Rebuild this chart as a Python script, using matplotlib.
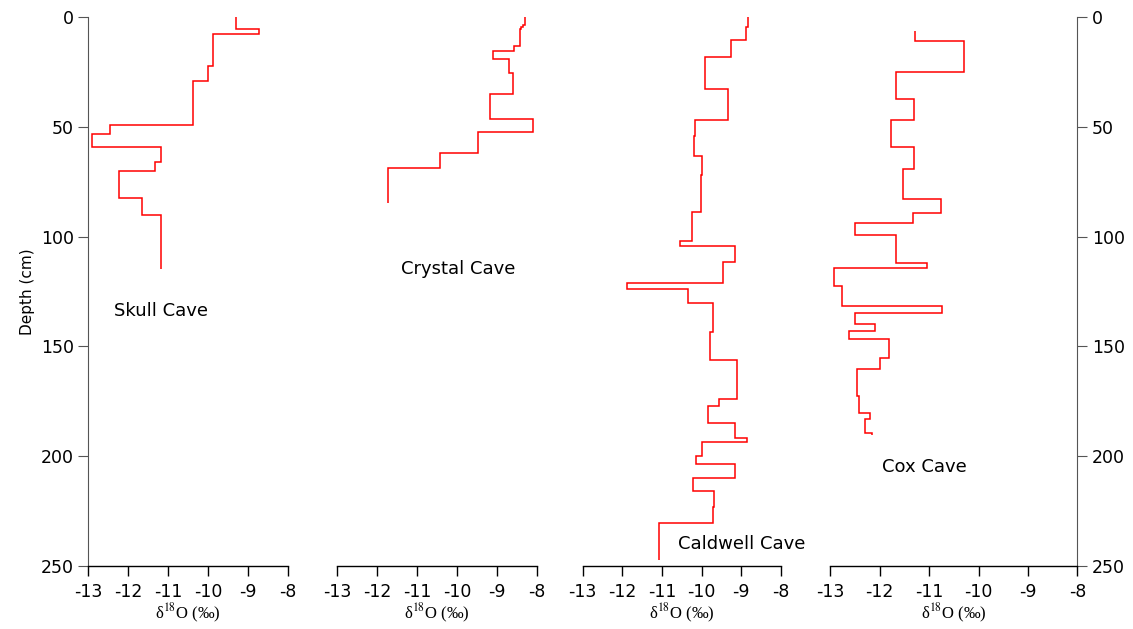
import matplotlib
matplotlib.use('Agg')
import matplotlib.pyplot as plt

plt.rcParams['axes.unicode_minus'] = False
plt.rcParams['mathtext.fontset'] = 'stix'
plt.rcParams['font.family'] = 'DejaVu Sans'

# stepped d18O records: depth edges (cm) and value of each interval
skull_depth = [0, 5.4, 7.9, 22.2, 29.3, 49.3, 53.4, 59.1, 65.9, 70, 82.6, 90.3, 114.7]
skull_d18o = [-9.30, -8.73, -9.87, -10.01, -10.38, -12.46, -12.91, -11.17, -11.34,
              -12.23, -11.66, -11.17]

crystal_depth = [0, 3.5, 4.5, 5.5, 13.2, 15.4, 19.1, 25.6, 35.1, 46.5, 52.4, 62.2, 68.9, 84.7]
crystal_d18o = [-8.31, -8.35, -8.40, -8.42, -8.58, -9.11, -8.70, -8.59, -9.18, -8.10,
                -9.48, -10.42, -11.73]

caldwell_depth = [0, 4.4, 10.6, 18.4, 32.9, 47.0, 54.2, 63.2, 72.1, 88.7, 102.2, 104.4,
                  111.7, 121.1, 124.0, 130.5, 143.3, 156.3, 174.0, 177.0, 185.0, 191.9,
                  193.4, 199.8, 203.7, 210.1, 215.7, 223.3, 230.6, 247.3]
caldwell_d18o = [-8.83, -8.88, -9.26, -9.90, -9.32, -10.16, -10.19, -9.98, -10.02, -10.25,
                 -10.54, -9.15, -9.47, -11.89, -10.34, -9.70, -9.79, -9.10, -9.55, -9.83,
                 -9.16, -8.86, -9.98, -10.13, -9.16, -10.22, -9.68, -9.70, -11.07]

cox_depth = [6.4, 11.2, 25.2, 37.3, 47.0, 59.1, 69.1, 83.0, 89.3, 93.9, 99.1, 112.2, 114.2,
             122.5, 131.5, 134.7, 139.7, 142.9, 146.6, 155.4, 160.2, 172.6, 180.5, 183.2,
             189.3, 190.3]
cox_d18o = [-11.29, -10.29, -11.66, -11.31, -11.77, -11.31, -11.52, -10.75, -11.33, -12.49,
            -11.66, -11.04, -12.91, -12.75, -10.73, -12.49, -12.10, -12.61, -11.80, -11.99,
            -12.45, -12.42, -12.20, -12.29, -12.16]

cave_names = ['Skull Cave', 'Crystal Cave', 'Caldwell Cave', 'Cox Cave']
name_pos = [(-11.18, 134), (-9.97, 115), (-8.98, 240), (-11.09, 205)]
x_ticks = [-13, -12, -11, -10, -9, -8]
depth_ticks = [0, 50, 100, 150, 200, 250]

records = [(skull_depth, skull_d18o), (crystal_depth, crystal_d18o),
           (caldwell_depth, caldwell_d18o), (cox_depth, cox_d18o)]
boxes = [(0.0781, 0.176), (0.2974, 0.1765), (0.5143, 0.1748), (0.7326, 0.2184)]

fig = plt.figure(figsize=(11.33, 6.29), dpi=100)
bottom, height = 0.1002, 0.873

for i, ((depth, vals), (left, width)) in enumerate(zip(records, boxes)):
    ax = fig.add_axes([left, bottom, width, height])
    ax.stairs(vals, depth, orientation='horizontal', baseline=None,
              color='red', linewidth=1.1)
    ax.set_xlim(-13, -8)
    ax.set_ylim(250, 0)
    ax.set_xticks(x_ticks)
    ax.tick_params(axis='x', direction='out', length=7, width=1, labelsize=12.5, pad=5)
    ax.set_xlabel(r'δ$^{18}$O (‰)', family='Liberation Serif', fontsize=12, labelpad=1)
    for side in ['top', 'left', 'right']:
        ax.spines[side].set_visible(False)
    ax.spines['bottom'].set_linewidth(1)
    ax.text(name_pos[i][0], name_pos[i][1], cave_names[i], fontsize=13,
            ha='center', va='center')
    if i == 0:
        ax.spines['left'].set_visible(True)
        ax.spines['left'].set_color('#555555')
        ax.set_yticks(depth_ticks)
        ax.tick_params(axis='y', direction='out', length=7, color='#555555',
                       labelsize=12.5)
        ax.set_ylabel('Depth (cm)', fontsize=11, labelpad=4)
    elif i == 3:
        ax.spines['right'].set_visible(True)
        ax.spines['right'].set_color('#555555')
        ax.yaxis.tick_right()
        ax.set_yticks(depth_ticks)
        ax.tick_params(axis='y', direction='out', length=7, color='#555555',
                       labelsize=12.5)
    else:
        ax.set_yticks([])

fig.savefig('out.png', dpi=100)
